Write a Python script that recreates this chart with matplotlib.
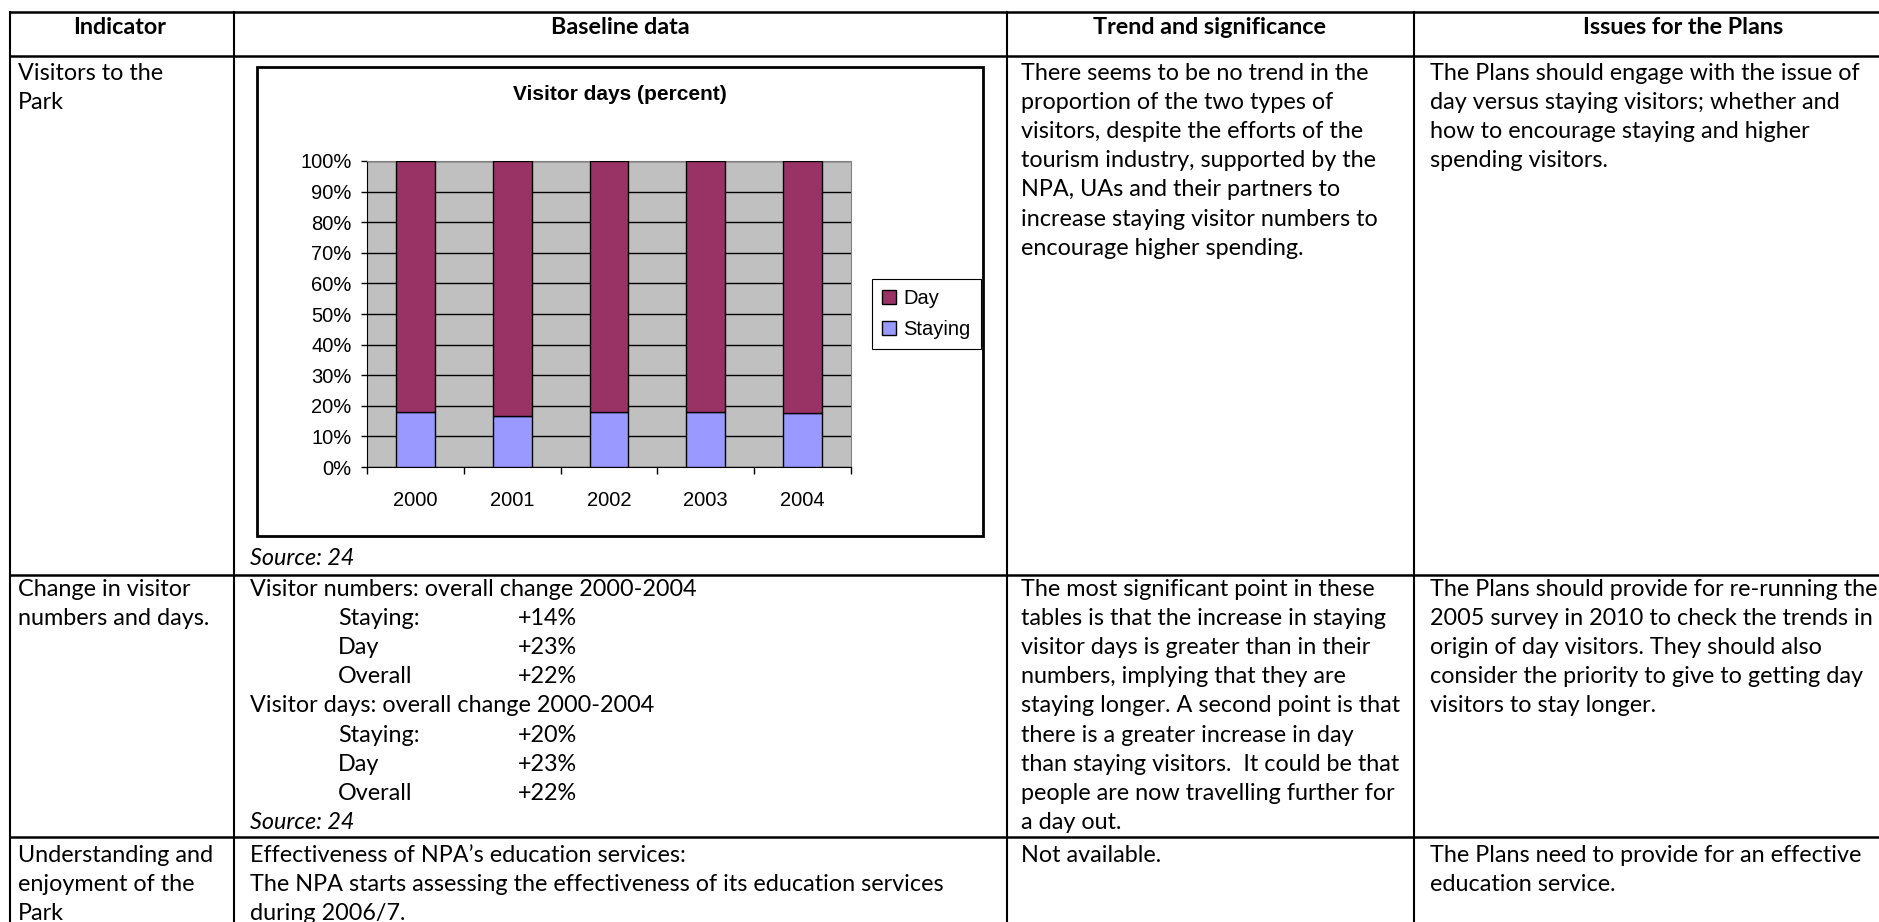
"""
Indicator table with an embedded stacked bar chart of visitor days.

Output:
    out.png
"""

import matplotlib.pyplot as plt
from matplotlib.patches import Patch, Rectangle


# ---------------------------------------------------------------------
# Data
# ---------------------------------------------------------------------

YEARS = ["2000", "2001", "2002", "2003", "2004"]
STAYING = [18.0, 16.8, 18.0, 18.0, 17.5]
DAY = [100 - s for s in STAYING]
Y_TICKS = list(range(0, 101, 10))
SERIES = ["Day", "Staying"]

HEADERS = ["Indicator", "Baseline data", "Trend and significance", "Issues for the Plans"]

ROW1_INDICATOR = ["Visitors to the", "Park"]
ROW1_TREND = [
    "There seems to be no trend in the",
    "proportion of the two types of",
    "visitors, despite the efforts of the",
    "tourism industry, supported by the",
    "NPA, UAs and their partners to",
    "increase staying visitor numbers to",
    "encourage higher spending.",
]
ROW1_ISSUES = [
    "The Plans should engage with the issue of",
    "day versus staying visitors; whether and",
    "how to encourage staying and higher",
    "spending visitors.",
]

ROW2_INDICATOR = ["Change in visitor", "numbers and days."]
ROW2_BASELINE = [
    ("Visitor numbers: overall change 2000-2004", None),
    ("Staying:", "+14%"),
    ("Day", "+23%"),
    ("Overall", "+22%"),
    ("Visitor days: overall change 2000-2004", None),
    ("Staying:", "+20%"),
    ("Day", "+23%"),
    ("Overall", "+22%"),
]
ROW2_TREND = [
    "The most significant point in these",
    "tables is that the increase in staying",
    "visitor days is greater than in their",
    "numbers, implying that they are",
    "staying longer. A second point is that",
    "there is a greater increase in day",
    "than staying visitors.  It could be that",
    "people are now travelling further for",
    "a day out.",
]
ROW2_ISSUES = [
    "The Plans should provide for re-running the",
    "2005 survey in 2010 to check the trends in",
    "origin of day visitors. They should also",
    "consider the priority to give to getting day",
    "visitors to stay longer.",
]

ROW3_INDICATOR = ["Understanding and", "enjoyment of the", "Park"]
ROW3_BASELINE = [
    "Effectiveness of NPA\u2019s education services:",
    "The NPA starts assessing the effectiveness of its education services",
    "during 2006/7.",
]
ROW3_TREND = ["Not available."]
ROW3_ISSUES = ["The Plans need to provide for an effective", "education service."]

SOURCE = "Source: 24"

# ---------------------------------------------------------------------
# Layout (pixels)
# ---------------------------------------------------------------------

W, H = 1879, 922
DPI = 100

COL_X = [10, 234, 1007, 1414]
ROW_Y = [12, 56, 575, 837]
PAD_X = [18, 250, 1021, 1430]
LINE = 29.2

BODY_FONT = "Lato"
BODY_SIZE = 16.8
CHART_FONT = "Liberation Sans"

DAY_COLOR = "#993366"
STAY_COLOR = "#9999FF"


def lines(ax, x, y0, texts, **kw):
    for i, t in enumerate(texts):
        ax.text(x, y0 + i * LINE, t, ha="left", va="center",
                family=BODY_FONT, fontsize=BODY_SIZE, **kw)


fig = plt.figure(figsize=(W / DPI, H / DPI), dpi=DPI)
ax = fig.add_axes([0, 0, 1, 1])
ax.set_xlim(0, W)
ax.set_ylim(H, 0)
ax.axis("off")

# table grid
for y in ROW_Y:
    ax.plot([COL_X[0], W + 5], [y, y], color="black", lw=1.8)
for x in COL_X:
    ax.plot([x, x], [ROW_Y[0], H + 5], color="black", lw=1.5)

# header
header_centers = [120, 620, 1210, 1683]
for cx_, h in zip(header_centers, HEADERS):
    ax.text(cx_, 28, h, ha="center", va="center", family=BODY_FONT,
            fontsize=BODY_SIZE, fontweight="bold")

# row 1
lines(ax, PAD_X[0], 73, ROW1_INDICATOR)
lines(ax, PAD_X[2], 73, ROW1_TREND)
lines(ax, PAD_X[3], 73, ROW1_ISSUES)
ax.text(PAD_X[1], 558, SOURCE, ha="left", va="center", family=BODY_FONT,
        fontsize=BODY_SIZE, style="italic")

# row 2
lines(ax, PAD_X[0], 589, ROW2_INDICATOR)
lines(ax, PAD_X[2], 589, ROW2_TREND)
lines(ax, PAD_X[3], 589, ROW2_ISSUES)
for i, (label, value) in enumerate(ROW2_BASELINE):
    y = 589 + i * LINE
    if value is None:
        lines(ax, PAD_X[1], y, [label])
    else:
        lines(ax, 338, y, [label])
        lines(ax, 518, y, [value])
ax.text(PAD_X[1], 589 + len(ROW2_BASELINE) * LINE, SOURCE, ha="left",
        va="center", family=BODY_FONT, fontsize=BODY_SIZE, style="italic")

# row 3
lines(ax, PAD_X[0], 855, ROW3_INDICATOR)
lines(ax, PAD_X[1], 855, ROW3_BASELINE)
lines(ax, PAD_X[2], 855, ROW3_TREND)
lines(ax, PAD_X[3], 855, ROW3_ISSUES)

# ---------------------------------------------------------------------
# Embedded chart
# ---------------------------------------------------------------------

ax.add_patch(Rectangle((257, 67), 726, 469, fill=False, edgecolor="black", lw=2))
ax.text(620, 95, "Visitor days (percent)", ha="center", va="center",
        family=CHART_FONT, fontsize=15, fontweight="bold")

pl, pr, pt, pb = 367, 851, 161, 467
cax = fig.add_axes([pl / W, 1 - pb / H, (pr - pl) / W, (pb - pt) / H])
cax.set_facecolor("#C0C0C0")
xpos = range(len(YEARS))
cax.bar(xpos, STAYING, 0.4, color=STAY_COLOR, edgecolor="black", lw=1, zorder=3)
cax.bar(xpos, DAY, 0.4, bottom=STAYING, color=DAY_COLOR, edgecolor="black",
        lw=1, zorder=3)
cax.set_xlim(-0.5, len(YEARS) - 0.5)
cax.set_ylim(0, 100)

cax.set_yticks(Y_TICKS)
cax.set_yticklabels([f"{v}%" for v in Y_TICKS], family=CHART_FONT, fontsize=14.5)
cax.yaxis.grid(True, color="black", lw=1, zorder=1)
cax.set_axisbelow(True)
cax.tick_params(axis="y", length=4, width=1, pad=7, direction="out")

cax.set_xticks(list(xpos))
cax.set_xticklabels(YEARS, family=CHART_FONT, fontsize=14.5)
cax.set_xticks([i - 0.5 for i in range(len(YEARS) + 1)], minor=True)
cax.tick_params(axis="x", which="major", length=0, pad=17)
cax.tick_params(axis="x", which="minor", length=5, width=1, direction="out")

for side in ["top", "right"]:
    cax.spines[side].set_color("#808080")
for side in ["left", "bottom"]:
    cax.spines[side].set_color("black")

handles = [Patch(facecolor=DAY_COLOR, edgecolor="black"),
           Patch(facecolor=STAY_COLOR, edgecolor="black")]
leg = cax.legend(handles, SERIES, loc="upper left",
                 bbox_to_anchor=(872 / W, 1 - 279 / H),
                 bbox_transform=fig.transFigure, borderaxespad=0,
                 fancybox=False, edgecolor="black", framealpha=1,
                 handlelength=0.7, handleheight=0.7, handletextpad=0.35,
                 borderpad=0.5, labelspacing=0.6,
                 prop={"family": CHART_FONT, "size": 14.5})
leg.get_frame().set_linewidth(0.8)

fig.savefig("out.png", dpi=DPI)
